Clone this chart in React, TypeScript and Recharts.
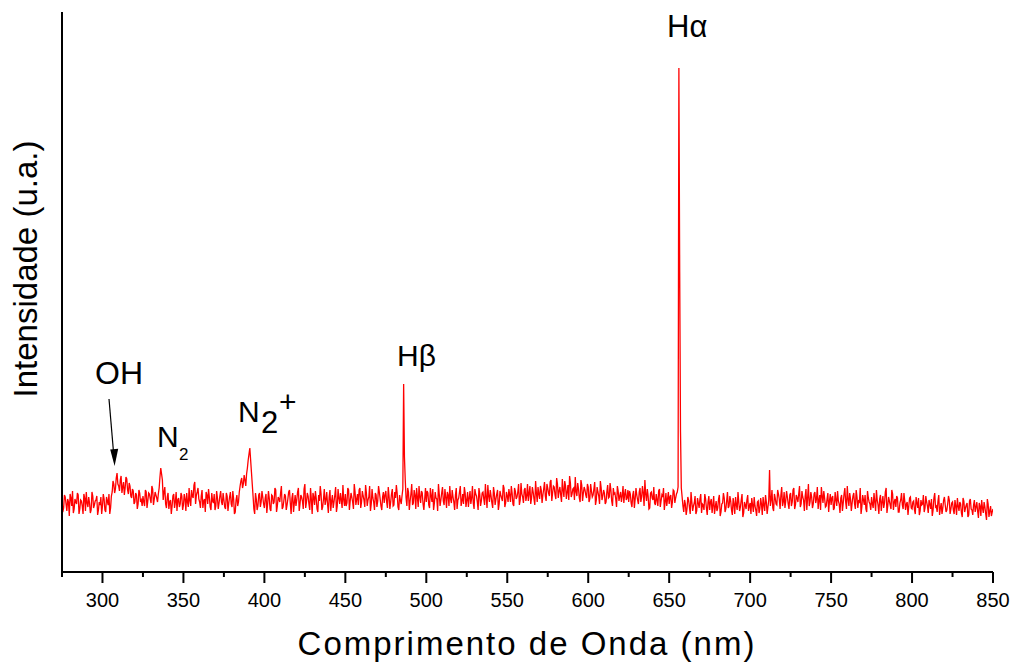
import React from 'react';
import { LineChart, Line, XAxis, YAxis } from 'recharts';

const WL_START = 275;
const WL_STEP = 1;

// intensities at whole nanometres, 275..850
const intensity: number[] = [
  // 275-299
  72, 64, 75, 61, 70, 78, 66, 59, 73, 68, 77, 63, 71, 58, 74, 80, 65, 69, 62, 76, 67, 72, 57, 70, 75,
  // 300-324
  66, 73, 60, 71, 78, 64, 80, 88, 83, 99, 86, 92, 79, 90, 84, 93, 78, 86, 74, 81, 70, 77, 68, 79, 72,
  // 325-349
  76, 66, 80, 71, 78, 69, 83, 73, 77, 70, 84, 104, 92, 80, 68, 75, 63, 72, 66, 78, 70, 61, 74, 68, 76,
  // 350-374
  67, 73, 79, 65, 71, 82, 74, 90, 77, 84, 70, 76, 64, 73, 80, 68, 75, 62, 71, 78, 66, 74, 69, 81, 67,
  // 375-399
  72, 63, 76, 69, 80, 65, 73, 60, 77, 70, 86, 94, 88, 92, 98, 112, 124, 100, 76, 58, 73, 66, 79, 70, 75,
  // 400-424
  64, 78, 68, 74, 61, 76, 70, 82, 66, 73, 79, 63, 71, 76, 67, 80, 69, 74, 60, 77, 72, 84, 68, 75, 63,
  // 425-449
  88, 70, 76, 62, 73, 79, 67, 74, 60, 71, 78, 65, 83, 72, 68, 75, 61, 77, 70, 85, 66, 74, 79, 64, 72,
  // 450-474
  78, 69, 82, 71, 75, 63, 80, 73, 67, 84, 70, 76, 65, 79, 72, 86, 68, 74, 62, 77, 71, 80, 66, 75, 69,
  // 475-499
  81, 64, 76, 70, 83, 67, 74, 79, 62, 72, 76, 188, 92, 66, 80, 71, 88, 69, 77, 84, 65, 75, 81, 68, 73,
  // 500-524
  70, 79, 64, 76, 83, 69, 74, 61, 78, 72, 85, 67, 75, 80, 66, 73, 82, 70, 77, 63, 74, 86, 71, 68, 79,
  // 525-549
  72, 65, 81, 74, 69, 83, 76, 62, 78, 71, 80, 67, 75, 87, 70, 76, 64, 79, 73, 82, 68, 77, 71, 84, 69,
  // 550-574
  76, 83, 70, 79, 66, 81, 75, 88, 72, 78, 69, 84, 76, 71, 86, 74, 80, 67, 79, 85, 73, 82, 77, 90, 71,
  // 575-599
  84, 76, 92, 79, 85, 73, 88, 81, 77, 93, 75, 86, 80, 72, 89, 78, 84, 95, 76, 83, 70, 87, 79, 82, 74,
  // 600-624
  85, 73, 81, 77, 90, 72, 80, 68, 84, 76, 79, 70, 87, 75, 82, 66, 78, 73, 86, 71, 80, 76, 69, 83, 74,
  // 625-649
  70, 78, 65, 81, 73, 77, 68, 84, 75, 79, 92, 71, 76, 64, 80, 72, 69, 78, 66, 83, 71, 75, 62, 79, 73,
  // 650-674
  68, 77, 70, 81, 74, 80, 504, 140, 75, 60, 68, 63, 72, 58, 70, 66, 76, 61, 69, 73, 59, 67, 78, 64, 70,
  // 675-699
  62, 73, 67, 58, 71, 64, 77, 60, 69, 74, 63, 80, 66, 71, 57, 68, 75, 62, 70, 65, 78, 59, 67, 72, 61,
  // 700-724
  69, 74, 60, 66, 56, 71, 63, 68, 75, 61, 70, 65, 102, 72, 64, 78, 68, 82, 73, 77, 66, 80, 71, 75, 63,
  // 725-749
  79, 70, 84, 67, 74, 78, 65, 81, 72, 76, 62, 88, 70, 75, 68, 80, 73, 63, 77, 85, 69, 74, 66, 79, 71,
  // 750-774
  67, 76, 64, 72, 81, 68, 74, 61, 78, 70, 86, 66, 73, 69, 79, 63, 75, 71, 84, 65, 72, 77, 60, 74, 68,
  // 775-799
  75, 64, 70, 82, 67, 73, 61, 76, 69, 84, 66, 71, 63, 78, 70, 65, 74, 60, 72, 67, 79, 62, 70, 66, 75,
  // 800-824
  63, 71, 58, 69, 74, 61, 67, 77, 64, 70, 59, 68, 73, 62, 79, 66, 71, 57, 69, 64, 75, 60, 68, 72, 63,
  // 825-850
  70, 58, 66, 74, 61, 68, 55, 71, 64, 69, 57, 73, 62, 67, 60, 70, 54, 66, 72, 59, 65, 52, 68, 61, 56, 63,
];

// intensities at half nanometres, 275.5..849.5
const intensityHalf: number[] = [
  // 275.5-299.5
  60, 77, 68, 73, 56, 74, 81, 63, 70, 79, 58, 72, 66, 78, 61, 69, 75, 59, 80, 64, 71, 76, 62, 67, 58,
  // 300.5-324.5
  78, 62, 75, 67, 58, 76, 91, 79, 94, 88, 81, 96, 85, 77, 95, 82, 89, 76, 83, 68, 79, 63, 82, 70, 66,
  // 325.5-349.5
  70, 82, 64, 79, 73, 86, 67, 80, 74, 78, 95, 98, 72, 85, 64, 79, 70, 58, 76, 64, 80, 72, 65, 79, 62,
  // 350.5-374.5
  78, 61, 70, 84, 66, 76, 87, 68, 80, 73, 64, 82, 71, 60, 77, 83, 65, 79, 69, 62, 81, 63, 76, 70, 79,
  // 375.5-399.5
  65, 79, 61, 75, 68, 81, 58, 72, 66, 80, 91, 84, 97, 86, 104, 118, 112, 88, 63, 79, 62, 77, 65, 81, 68,
  // 400.5-424.5
  74, 59, 81, 63, 77, 68, 84, 60, 75, 70, 86, 65, 78, 62, 73, 82, 58, 79, 69, 66, 80, 61, 77, 71, 83,
  // 425.5-449.5
  64, 79, 68, 84, 58, 75, 81, 63, 77, 86, 62, 73, 67, 80, 59, 82, 71, 64, 77, 60, 83, 68, 72, 87, 66,
  // 450.5-474.5
  66, 84, 62, 79, 70, 88, 67, 78, 82, 64, 81, 72, 87, 66, 75, 61, 83, 70, 79, 65, 86, 73, 62, 80, 77,
  // 475.5-499.5
  70, 85, 63, 78, 66, 80, 87, 65, 77, 68, 83, 115, 74, 84, 62, 78, 67, 82, 63, 75, 86, 69, 79, 62, 84,
  // 500.5-524.5
  81, 67, 84, 70, 62, 80, 73, 88, 66, 79, 71, 83, 64, 77, 86, 69, 75, 62, 84, 72, 80, 66, 78, 85, 65,
  // 525.5-549.5
  80, 74, 68, 86, 63, 78, 70, 84, 66, 79, 73, 88, 64, 76, 82, 69, 85, 67, 78, 62, 81, 74, 87, 65, 80,
  // 550.5-574.5
  70, 77, 86, 68, 84, 73, 80, 67, 89, 75, 82, 71, 88, 79, 68, 85, 73, 91, 70, 78, 86, 69, 83, 76, 88,
  // 575.5-599.5
  79, 90, 71, 86, 77, 94, 74, 85, 70, 82, 91, 73, 87, 96, 75, 83, 72, 80, 89, 74, 92, 71, 85, 77, 88,
  // 600.5-624.5
  70, 88, 75, 83, 67, 85, 76, 91, 72, 82, 68, 80, 74, 89, 71, 84, 79, 65, 81, 76, 70, 86, 78, 72, 82,
  // 625.5-649.5
  81, 69, 77, 64, 84, 72, 80, 70, 86, 66, 78, 83, 63, 79, 74, 85, 67, 72, 81, 65, 77, 84, 70, 66, 80,
  // 650.5-674.5
  75, 64, 82, 69, 78, 85, 300, 84, 66, 72, 57, 75, 65, 80, 61, 69, 58, 74, 64, 78, 68, 62, 73, 57, 76,
  // 675.5-699.5
  70, 59, 76, 65, 61, 73, 56, 68, 79, 60, 71, 64, 76, 62, 74, 58, 67, 80, 61, 72, 55, 70, 63, 77, 66,
  // 700.5-724.5
  58, 67, 75, 62, 70, 59, 74, 57, 67, 77, 58, 72, 66, 82, 61, 74, 67, 78, 63, 85, 70, 64, 81, 68, 77,
  // 725.5-749.5
  66, 82, 63, 77, 70, 86, 68, 75, 61, 83, 74, 66, 80, 64, 78, 69, 85, 72, 62, 76, 81, 65, 73, 60, 78,
  // 750.5-774.5
  74, 62, 80, 66, 71, 59, 77, 69, 84, 63, 73, 79, 61, 76, 68, 82, 64, 70, 58, 77, 67, 63, 81, 70, 62,
  // 775.5-799.5
  68, 79, 61, 72, 58, 77, 70, 64, 80, 59, 75, 67, 82, 62, 73, 76, 60, 69, 79, 63, 71, 68, 57, 74, 64,
  // 800.5-824.5
  70, 62, 75, 64, 57, 72, 68, 60, 76, 66, 72, 63, 56, 74, 65, 60, 77, 64, 58, 72, 67, 62, 76, 58, 69,
  // 825.5-849.5
  62, 72, 57, 66, 70, 59, 74, 60, 67, 55, 71, 63, 57, 72, 65, 61, 69, 56, 64, 70, 58, 73, 55, 66, 60,
];

const xTicks: number[] = [
  275, 300, 325, 350, 375, 400, 425, 450, 475, 500, 525, 550, 575,
  600, 625, 650, 675, 700, 725, 750, 775, 800, 825, 850,
];
const yTicks: number[] = [45, 352];

const data: { wl: number; v: number }[] = [];
intensity.forEach((v, i) => {
  data.push({ wl: WL_START + i * WL_STEP, v });
  if (i < intensityHalf.length) {
    data.push({ wl: WL_START + i * WL_STEP + WL_STEP / 2, v: intensityHalf[i] });
  }
});

const FONT = '"Liberation Sans", Arial, Helvetica, sans-serif';

const XTick = (props: any) => {
  const { x, y, payload } = props;
  const major = payload.value % 50 === 0;
  return (
    <g>
      <line x1={x} x2={x} y1={y} y2={y + (major ? 11 : 5)} stroke="#000" strokeWidth={2} />
      {major && (
        <text x={x} y={y + 35} textAnchor="middle" fontSize={20} fontFamily={FONT} fill="#000">
          {payload.value}
        </text>
      )}
    </g>
  );
};

export default function App() {
  return (
    <div style={{ position: 'absolute', left: 0, top: 0, width: 1013, height: 662, background: '#fff' }}>
      <LineChart
        width={1013}
        height={662}
        data={data}
        margin={{ top: 12, right: 20, bottom: 0, left: 62 }}
      >
        <XAxis
          dataKey="wl"
          type="number"
          domain={[275, 850]}
          ticks={xTicks}
          interval={0}
          height={90}
          tickSize={0}
          tickMargin={0}
          tickLine={false}
          tick={<XTick />}
          axisLine={{ stroke: '#000', strokeWidth: 2 }}
          allowDataOverflow
        />
        <YAxis
          type="number"
          domain={[0, 560]}
          ticks={yTicks}
          interval={0}
          width={20}
          mirror
          tick={false}
          tickSize={6}
          tickLine={{ stroke: '#000', strokeWidth: 1.5 }}
          axisLine={{ stroke: '#000', strokeWidth: 2 }}
          allowDataOverflow
        />
        <Line
          type="linear"
          dataKey="v"
          stroke="#ff0000"
          strokeWidth={1.3}
          dot={false}
          isAnimationActive={false}
        />
      </LineChart>
      <svg
        width={1013}
        height={662}
        style={{ position: 'absolute', left: 0, top: 0, pointerEvents: 'none' }}
        fontFamily={FONT}
      >
        <text transform="translate(37,269) rotate(-90)" textAnchor="middle" fontSize={33} fill="#000">
          Intensidade (u.a.)
        </text>
        <text x={527} y={655} textAnchor="middle" fontSize={33} letterSpacing={2} fill="#000">
          Comprimento de Onda (nm)
        </text>
        <text x={95} y={384} fontSize={32} fill="#000">OH</text>
        <line x1={109} y1={399} x2={113.5} y2={452} stroke="#000" strokeWidth={1.2} />
        <polygon points="110.2,449.5 118.2,448.8 114.6,466" fill="#000" />
        <text x={157} y={447} fontSize={30} fill="#000">N</text>
        <text x={179} y={460} fontSize={17} fill="#000">2</text>
        <text x={238} y={422} fontSize={30} fill="#000">N</text>
        <text x={261} y={433} fontSize={31} fill="#000">2</text>
        <text x={279} y={412} fontSize={30} fill="#000">+</text>
        <text x={397} y={366} fontSize={30} fill="#000">Hβ</text>
        <text x={667} y={37} fontSize={31} fill="#000">Hα</text>
      </svg>
    </div>
  );
}
